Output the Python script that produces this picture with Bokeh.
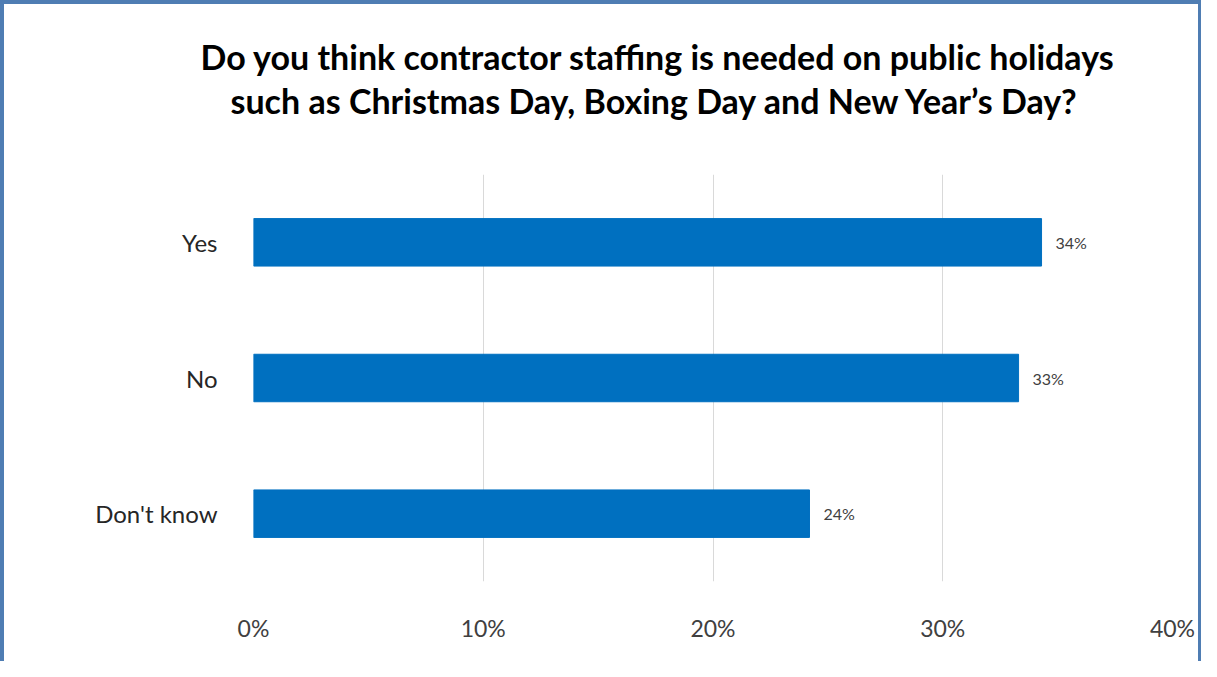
from bokeh.plotting import figure
from bokeh.models import ColumnDataSource, Title, FixedTicker, LabelSet, Range1d, NumeralTickFormatter
from bokeh.core.properties import value
from bokeh.embed import file_html
from bokeh.resources import INLINE

categories = ["Don't know", "No", "Yes"]
values = [24.2, 33.3, 34.3]
labels = ["24%", "33%", "34%"]
x_ticks = [0, 10, 20, 30, 40]
title_lines = ["Do you think contractor staffing is needed on public holidays",
               "such as Christmas Day, Boxing Day and New Year\u2019s Day?"]

FONT = "Lato"
BAR = "#0070C0"
W, H = 1201, 661

src = ColumnDataSource(dict(cat=categories, val=values, lab=labels))

p = figure(width=W, height=H, y_range=categories, x_range=Range1d(0, 40),
           output_backend="svg", toolbar_location=None,
           min_border_left=249, min_border_right=33, min_border_top=170, min_border_bottom=84)

p.hbar(y="cat", right="val", height=0.35, source=src, color=BAR)

p.add_layout(LabelSet(x="val", y="cat", text="lab", source=src, x_offset=14, y_offset=0,
                      text_baseline="middle", text_font=value(FONT), text_font_size="16px",
                      text_color="#404040"))

# spacer between the frame and the title (first added sits closest to the frame)
p.add_layout(Title(text=" ", text_font_size="46px", standoff=0), "above")
title_offsets = [-53, -23]
title_standoffs = [2, 0]
for line, off, so in reversed(list(zip(title_lines, title_offsets, title_standoffs))):
    p.add_layout(Title(text=line, align="left", offset=off, standoff=so,
                       text_font=FONT, text_font_size="34px", text_font_style="bold",
                       text_color="#000000"), "above")

p.xaxis.ticker = FixedTicker(ticks=x_ticks)
p.xaxis.formatter = NumeralTickFormatter(format="0")
p.xaxis.major_label_overrides = {t: f"{t}%" for t in x_ticks}
p.xaxis.axis_line_color = None
p.xaxis.major_tick_line_color = None
p.xaxis.minor_tick_line_color = None
p.xaxis.major_label_text_font = FONT
p.xaxis.major_label_text_font_size = "23px"
p.xaxis.major_label_text_color = "#404040"
p.xaxis.major_label_standoff = 26

p.yaxis.axis_line_color = None
p.yaxis.major_tick_line_color = None
p.yaxis.major_label_text_font = FONT
p.yaxis.major_label_text_font_size = "24px"
p.yaxis.major_label_text_color = "#262626"
p.yaxis.major_label_standoff = 30

p.ygrid.grid_line_color = None
p.xgrid.grid_line_color = "#d9d9d9"
p.xgrid.grid_line_width = 1
p.outline_line_color = None
p.background_fill_color = "white"
p.border_fill_color = "white"
p.styles = {"border-left": "4px solid #4f7db3", "border-top": "4px solid #4f7db3",
            "border-right": "3px solid #4f7db3"}

open("out.html", "w").write(file_html(p, INLINE))
